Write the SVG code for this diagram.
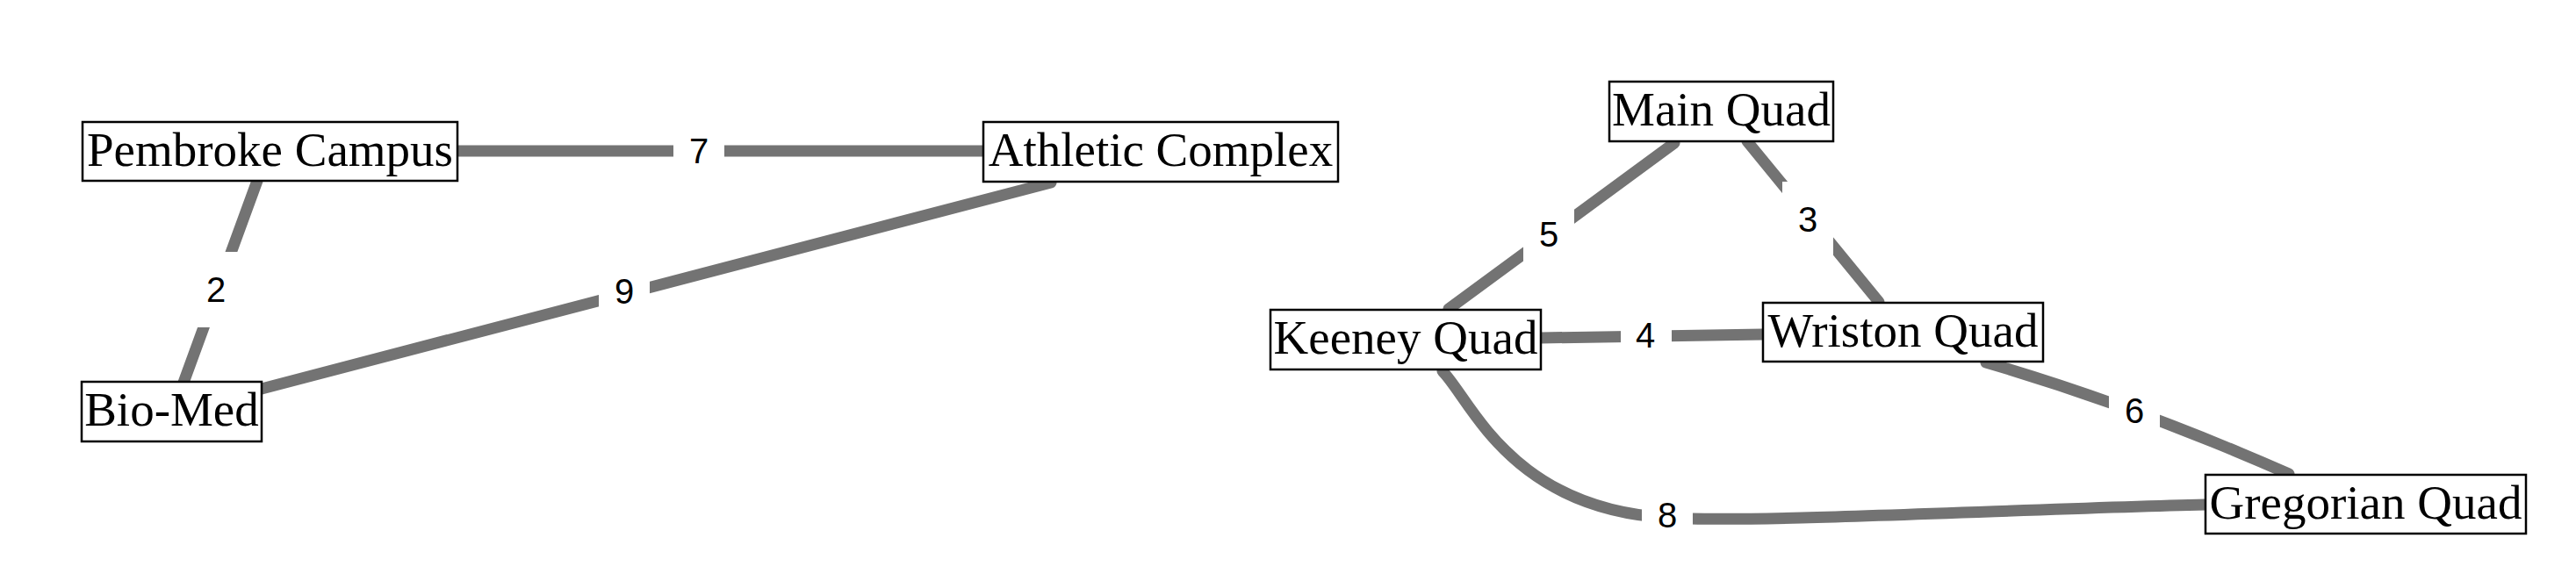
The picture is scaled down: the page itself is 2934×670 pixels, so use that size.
<svg xmlns="http://www.w3.org/2000/svg" width="2934" height="670" viewBox="0 0 2934 670">
<style>
.edge{fill:none;stroke:#737373;stroke-width:13;stroke-linecap:round}
.lbg{fill:#fff;stroke:none}
.lbl{font-family:"Liberation Sans",Arial,sans-serif;font-size:40px;fill:#000;text-anchor:middle}
.box{fill:#fff;stroke:#000;stroke-width:2.5}
.name{font-family:"Liberation Serif","Times New Roman",serif;font-size:55px;fill:#000;text-anchor:middle}
</style>
<rect width="2934" height="670" fill="#fff"/>
<g id="connectors">
  <path class="edge" d="M521,172 L1120,172"/>
  <path class="edge" d="M293,206 L209,436"/>
  <path class="edge" d="M298,443 L1197,208"/>
  <path class="edge" d="M1650,352 L1907,163"/>
  <path class="edge" d="M1990,161 L2140,344"/>
  <path class="edge" d="M1755,385 L2008,381"/>
  <path class="edge" d="M2262,413 Q2430,462 2607,540"/>
  <path class="edge" d="M1643,423 C1675,455 1720,580 1900,590 C2000,596 2300,580 2512,575"/>
  <rect class="lbg" x="767" y="129" width="58" height="86"/>
  <rect class="lbg" x="217" y="287" width="58" height="86"/>
  <rect class="lbg" x="682" y="289" width="58" height="86"/>
  <rect class="lbg" x="1735" y="224" width="58" height="86"/>
  <rect class="lbg" x="2030" y="207" width="58" height="86"/>
  <rect class="lbg" x="1846" y="339" width="58" height="86"/>
  <rect class="lbg" x="2402" y="425" width="58" height="86"/>
  <rect class="lbg" x="1870" y="544" width="58" height="86"/>
  <text class="lbl" x="796" y="186">7</text>
  <text class="lbl" x="246" y="344">2</text>
  <text class="lbl" x="711" y="346">9</text>
  <text class="lbl" x="1764" y="281">5</text>
  <text class="lbl" x="2059" y="264">3</text>
  <text class="lbl" x="1874" y="396">4</text>
  <text class="lbl" x="2431" y="482">6</text>
  <text class="lbl" x="1899" y="601">8</text>
</g>
<g id="pembroke"><rect class="box" x="94" y="139" width="427" height="67"/><text class="name" x="307.5" y="189">Pembroke Campus</text></g>
<g id="athletic"><rect class="box" x="1120" y="139" width="404" height="68"/><text class="name" x="1322" y="189">Athletic Complex</text></g>
<g id="biomed"><rect class="box" x="93" y="435" width="205" height="68"/><text class="name" x="195.5" y="485">Bio-Med</text></g>
<g id="main"><rect class="box" x="1833" y="93" width="255" height="68"/><text class="name" x="1960.5" y="143">Main Quad</text></g>
<g id="keeney"><rect class="box" x="1447" y="353" width="308" height="68"/><text class="name" x="1601" y="403">Keeney Quad</text></g>
<g id="wriston"><rect class="box" x="2008" y="345" width="319" height="67"/><text class="name" x="2167.5" y="395">Wriston Quad</text></g>
<g id="gregorian"><rect class="box" x="2512" y="541" width="365" height="67"/><text class="name" x="2694.5" y="591">Gregorian Quad</text></g>
</svg>
